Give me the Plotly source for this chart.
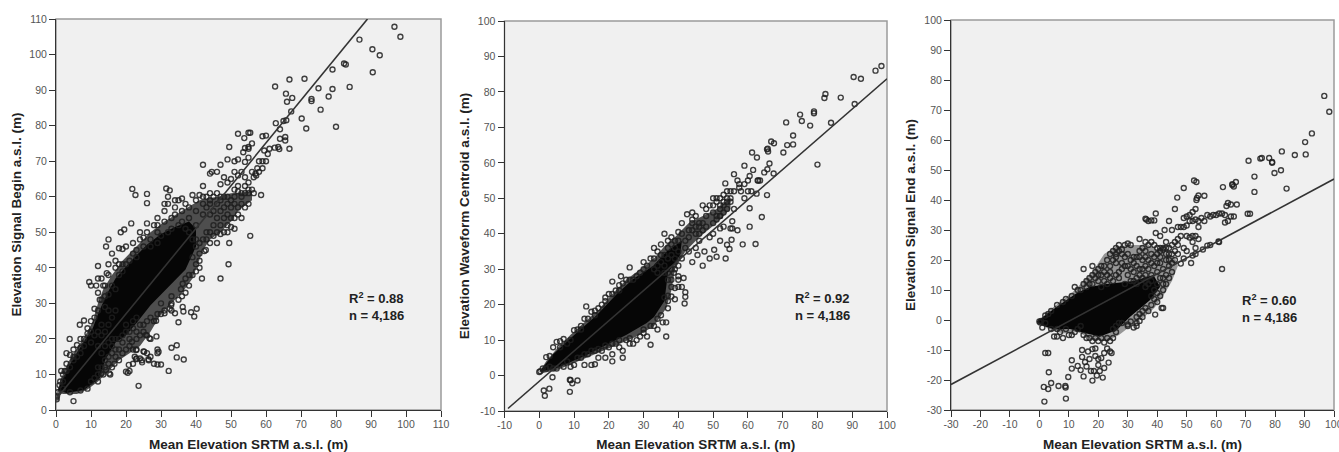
import plotly.graph_objects as go

X_TITLE = "Mean Elevation SRTM a.s.l. (m)"
Y_TITLES = ["Elevation Signal Begin a.s.l. (m)", "Elevation Waveform Centroid a.s.l. (m)", "Elevation Signal End a.s.l. (m)"]
STATS = ["R<sup>2</sup> = 0.88<br>n = 4,186", "R<sup>2</sup> = 0.92<br>n = 4,186", "R<sup>2</sup> = 0.60<br>n = 4,186"]

ticks_0_110 = [0,10,20,30,40,50,60,70,80,90,100,110]
ticks_m10_100 = [-10,0,10,20,30,40,50,60,70,80,90,100]
ticks_m30_100 = [-30,-20,-10,0,10,20,30,40,50,60,70,80,90,100]

begin_points = [
(96.7,107.8),(98.4,105),(86.7,104.2),(90.4,101.5),(92.5,99.8),(90.5,95),(82.3,97.5),(82.8,97.2),(79,95.8),(66.7,93),(71,93.2),(62.6,91),(65.7,89),(66,86.7),(67.5,87.8),(75,90.5),(79,90.3),(83.9,90.9),(77.9,88.2),(73,87.5),(73,86.9),(75.6,84.5),(67.2,84),(70.2,82),(71.5,79.2),(80,79.7),(62.8,80.7),(65,81.3),(65.8,81.5),(64,79),(66.7,73.5),(65.5,76.8),(65.5,75.8),(64,76.3),(63.5,74),(62.5,73.8),(63.8,73.4),(55,78),(55.5,78),(52,77.7),(53.8,76.5),(55,74),(56,75),(49.5,74),(54,73.7),(53.5,72.5),(55,73.5),(52,70.5),(49,70.5),(51,70),(54,69.8),(55,71),(47,69),
(59,77),(60,77.2),(61,73.5),(59.5,73),(60.5,72),(59,70),(60,70),(58,70),(59,68),(57.5,68),(57,66.5),(57.2,66),(56.5,65.5),(58,67),(56,67),(53,67),(51,67),(52,66),(54,65.5),(55,64),(50,65),(49,64),(48,65.5),(47,63.5),(46,67),(44.5,67),(44,66.5),(42,69),(49,60),(51,62),(52,61.5),(53,61),(54,61),(55,61),(56,62),(56.5,61),(58.6,60.5),(54,57),(53,54),(55.5,49),(49.5,47),(49.3,41),(47,37),(41.7,37),(42.4,44.7),(42.8,45),(50,51.5),(49,52),(51,51),(52,55),(51,54),(50,57),(48,57),(47,56),(45,60),(44,61),(42,63),(39,60.5),(41,60.5),(43,60),(38,57),(36,59.5),(35,59),(34,59),(32,60),(32.5,61.8),(31.5,62.3),(31,58),(32,58),(26,60.8),(26,58.2),(22.7,60.5),(21.8,62.2),(21.5,52.5),(26,52.5),(28,52),(29,54),(31,53),(33,54),(34,55),(36,56),(24,48),(25,48.5),(27,48),(29,50),(19.5,50.8),(18.5,50),(15,48),(14.3,46),(16,44),(18,45.5),(19,45.3),(22,44),(23,45),(12,40.5),(14.5,38.5),(15,38),(17,40),(18,41),(19,41),(9.5,36),(10,35),(11.5,35),(13.5,35),(14,35),(12,33),(12.5,31),(14,32),(15,32.5),(11,28.5),(12,28),(10,25),(8,25.2),(6.8,24),(3.9,20),(8,20),(9,21.5),(10,22),(13,24),(3,16),(4,15.5),(5,17),(6,18.3),(7,17.5),(1.5,11),(2.5,11),(1.2,8),(0.3,4),(0.2,3),(0.1,3.5),(0.5,5),(2,6),
(5,2.5),(4,5),(7,5.5),(9,6),(10,8),(12,8),(13.5,10),(15.5,10),(16,12),(14,12),(18,14),(17,17),(19,16),(20,17),(21,18),(22,17),(23,17),(20.5,10.5),(21,11),(22,13),(22.5,15),(23.6,6.8),(24,14.5),(23,14.5),(24.5,14),(25,16.5),(26,16),(27,15),(26.5,14),(28,13),(29,12.8),(30,12.8),(29,16),(29,17),(32.2,11),(33,17.5),(34.5,18.2),(34.5,14.8),(36.5,14.2),(28.7,20.7),(27,20),(26,21),(24,24),(25,24),(26,25),(28,25),(30,27),(32.9,29.5),(32.5,28.5),(33,28),(34,27.2),(35,24.7),(36.4,27.7),(36.2,29),(38.6,27.5),(39.5,26.3),(40.2,28.5),(35.7,34),(36.2,35.5),(38,38),(39,43),(41,44),(43,48),(44,50),(46,50),(47,49.5),(45,52),(43,50),(41,47),(40,48),(38,50),(40,52),(42,55),(44,55),(46,54),(36,53),(38,54),(40,56),(43,57),(44,58),(47,59),(48,60),
(14,22),(15,19),(16,20),(18,20),(19,21),(20,22),(21,22),(23,20),(24,21),(22,23),(15,15),(16,16),(17,20),(13,16),(14,14),(11,9),(12,12),(15,24),(16,26),(17,28),(15,28),(14,29),(17,34),(16,35),(18,38),(19,39),(20,41),(21,42),(23,43),(25,46),(27,46),(29,47),(30,49),(32,50),(33,51),(35,52),(37,51),(39,48),(40,46),(41,42),(40,41),(39,38),(38,35),(37,33),(36,32),(35,31),(33,30),(31,28),(29,27),(27,26),(23,26),(22,25),(20,24),(1,7),(2,8),(3,11),(4,12),(5,14),(6,15),(7,16),(8,18),(10,19),(11,21),(12,22),(13,21),
(14.3,11.3),(15.2,10.3),(12.9,10.3),(16.7,13),(20,10.8),(20.8,12.7),(22.9,14.3),(24.6,13.4),(26.4,14.3),(25.2,16.4),(29.3,16.4),(25.7,21.1),(26.7,20.2),(21.7,19.2),(22.9,16.9),(28.6,25.1),(31,27.2),(30,30),(33,32),(37,37),(40,39),(41,40),(42,48),(44,47),(45,49),(46,47),(48,50),(49,50),(50,54),(49,55),(52,57),(53,58),(55,58),(47,52),(48,54),(46,58),(45,56),(42,58),(40,59),(37,58),(34,57),(31,56),(29,52),(26,50),(24,50),(22,47),(20,46),(17,42),(15,41),(13,37),(12,37),(13,31),(11,26),(9,23),(7,20),(5,15),(3,13),(2,10),(12,18),(14,18),(16,18),(18,17),(19,19),(21,20),(23,22),(25,22),(17,15),(15,13),(13,12),(12,10),(50,59),(51,58),(53,60),(55,62),(54,63),(52,63),(51,60),(49,58),(47,60),(46,61),(44,59),(42,60),
]
begin_halo = [(0.3,5),(1.5,9),(3.5,13.5),(6,17.5),(9,22),(10.5,25),(12,30),(13.5,34),(16,38),(19,42),(23,46),(27,50),(31,53),(36,56),(41,59),(46,60),(50,61),(56,61.5),(56,59),(52,56),(50,53),(47,50),(44,48),(42,45),(39,37),(36,33),(33,30),(30,27),(27,22),(24,18),(21,16),(18,14),(15,11),(12,8),(9,5.8),(6,4.5),(2,4.5)]
begin_core = [(0.5,5.6),(3.8,12.5),(7.5,18.5),(10.5,23),(12.4,28),(15,33.5),(17,37),(21,41.5),(26,46.5),(30,49.5),(34,51.5),(38,53),(40,51),(40,46),(37,39.5),(32,34.5),(27,29.5),(23,24.5),(20,21),(17,19),(14,14),(12.5,9),(8,5.6),(3,4.8)]
begin_line_x = [0, 89]
begin_line_y = [3, 110]

centroid_points = [
(98.4,87.3),(96.7,86),(90.4,84.2),(92.5,83.7),(82.3,79.4),(82,78.3),(86.7,78.4),(79,74.5),(79,74),(90.7,76.6),(75,73.6),(75.5,71.8),(71,71.4),(77.9,70.5),(83.9,71.3),(80,59.5),(73,67.7),(71.3,65),(73,65.2),(70.2,62.9),(66.7,66),(67.5,65.5),(65.7,64),(65.5,63.8),(65.8,63.2),(61.2,62.9),(62.6,61.5),(66.2,59.8),(59,59.2),(65.6,58.2),(64.7,57.3),(67.4,57),(61.5,58),(60.5,56.3),(53.5,54.2),(56,56.8),(57,55),(57.5,54),(59,54),(60,55),(63,55),(63.5,55),(62.8,55),(61,52),(62.5,51.3),(65.5,50.9),(60,52),(59,50),(58,52),(57.5,53),(56,52),(55,52),(54,52),(60.5,47.2),(64,44.7),(60.5,42),(58.5,37),(62.2,37.1),(57,41),(55.5,41.5),(55,41.5),(55.5,43.5),(55.3,38.3),(52,38),(50.3,35.5),(54,36.9),(54.7,35.7),(49,33),(51,33.5),(53.6,33),(47,31),(47.5,35),(45.5,34),(44,32),(45,36),(41.5,27.5),(40,28),(38.7,29),(40,27),(41,25),(40,25),(39,24.7),(38,22.3),(42,23.5),(42,22.2),(41.8,20.3),(39,21.5),(37,22.5),(36,22),(36.5,15),(35.5,15),(36.5,11),(34,13),(32,8.7),(28,10),(30,12),(27,9),(26,9),(24,7),(23,8),(24,5),(21,6),(21,4),(19,5),(17,5),(15,3),(16,3.2),(13,3),(9,2.5),(10,3),(12,5),(3.8,-0.5),(8.8,-1.2),(9,-1.3),(9.5,-2.2),(11,-1.4),(2.9,-3.7),(1.3,-4.2),(1.6,-5.7),(8.8,-4.6),
(5,9.5),(6,9.7),(7,10.3),(2,5.2),(3,5.5),(10,12.8),(11,13),(13.5,19.5),(13,16),(15,18),(16,18.3),(18,20),(20,23),(21,23),(21,26.5),(23,25.5),(23.5,28),(26,30.5),(25,27),(28,28),(30,32),(32,33),(33,36),(34,35),(36,40),(35,37),(37,38),(38,37),(40,40.5),(41,43),(42,38),(43,39),(42.5,45.5),(44,44),(45,45),(46,42),(47,43),(48,45),(47,48),(49,48),(50,48),(51,50),(52,50),(53,51),(54,50),(55,50),(56,47),(54,47),(53,48),(52,45),(51,44),(50,43),(48,42),(49,39),(50,40),(52,41.5),(53,42),(46,38),(45,40),(43,35),(41,33),(40,31),(39,33),(37,33),(38,30),(39,36),(37,36),(36,34),(35,32),(34,31),(36,31),(38,34),(40,35),(42,36),(44,41),(45,42),(46,43),(51,45),(52,45),(52,48),(53,49),(54,49),(55,49),
(0,1),(0.3,1.2),(1,2),(2,2),(3,2.5),(4,2),(5,2),(7,2.5),(8,4),(11,5),(14,6),(16,7),(18,7),(20,8),(22,9),(25,10),(29,11),(31,11),(33,14),(35,17),(37,19),(38,25),(37,27),(36,29),(34,29),(33,30),(12,14),(14,16),(16,17),(4,8),(6,8),(8,9),(9,10),(19,22),(22,24),(24,26),(27,27),(29,29),
(44,46),(48,47),(50,46),(52,47),(51,49),(50,50),(53,46),(43,41),(44,43),(47,41),(46,40),(41,40),(40,38),(39,38),(38,39),(35,34),(31,31),(12,13),(17,19),(19,21),(23,24),(26,27),(30,30),(33,33),(13,6),(15,7),(17,7.5),(19,8.5),(21,9),(23,10),(26,10.5),(30,13),(32,14),(34,16),(37,21),(38,27),(37,29),(39,30),
]
centroid_halo = [(0,1),(2,4),(5,7.5),(9,11.5),(13,15),(17,18.5),(21,23),(25,27),(29,30),(33,33),(36,36.5),(39,39),(43,43),(47,45),(51,47),(55,50),(55,47),(51,43),(46,39),(42,35),(39,30),(38,24),(36.5,19),(33,14),(28,11),(22,8.5),(16,6),(10,3.5),(5,1.5),(1,0.7)]
centroid_core = [(0.2,1.2),(4,6),(9.8,11.2),(16.5,17),(22.3,23),(27,27.2),(32.8,31),(36.6,35),(41,38),(40.5,34),(37,29),(36,21),(33,16.5),(30.9,14.8),(25.1,11.5),(18.4,8.2),(12.7,5.4),(5,2.1)]
centroid_line_x = [-9, 100]
centroid_line_y = [-9.3, 83.7]

end_points = [
(96.7,74.7),(98.4,69.4),(92.5,62.2),(90.2,59.3),(90.4,55.2),(86.7,55),(82.3,56.2),(82,49.9),(79.8,49),(83.9,43.8),(79,52.7),(79,52.4),(78,54),(75,53.8),(75.5,54),(71,53.1),(73,47.8),(73,42.7),(70.7,35.4),(71.5,35.4),(66.7,46),(65.5,45.3),(65.5,45),(66,44.5),(62.3,44.3),(52.5,46.5),(53.3,46),(49,44),(46.8,40.8),(54,41.5),(53.5,40.7),(56,41.4),(53.3,40),(46,37),(62,17),(61,26),(60.8,26.2),(58,25),(57,24.8),(55.5,23.5),(53,22),(52,21.5),(51.5,19),(49,20.5),(48,18.8),(39.3,1.8),(42,4),(41.5,4),
(36,33.8),(36.3,33.5),(37,33),(38,33.2),(39,33.2),(39.5,35.5),(39.5,29),(41,28),(42.5,30),(44,33),(43,26),(47,31),(48,31),(49,31),(50,31.5),(49,34),(50,34.5),(51,33),(52,33),(53,33.5),(54,33),(55,34),(56,33),(57,35),(58,34.5),(59,35),(60,35),(61,35.5),(62,35.5),(63,35),(63,32.5),(64,33),(65,34.5),(66,34.5),(64,39),(65,38.5),(63.5,38),(67,38.5),(52,36),(53,37),(51,35),(54,31),(54,27),(53,28),(52,28),(51,27.5),(50,28),(48,28),(47,27),(46,26),(45,25),(44,24),(43,24),(42,23.5),(41,24),(40,24),(45,30),(50,23),(49,24),(52,26),(53,24),
(1.7,-27.2),(9,-26.2),(1.5,-22.3),(3,-23),(4,-21),(6.5,-22),(8.8,-22),(8.9,-22.5),(3.2,-17.4),(2,-11),(3,-11),(9.8,-19),(11,-13.4),(11,-16.2),(13,-15.3),(14,-16.7),(15,-18.8),(14.5,-12.3),(14.5,-10),(15.5,-14),(16,-15.5),(16.5,-10.5),(17,-13),(17.5,-17),(18,-20.2),(18.5,-17),(18,-9.7),(19,-9.5),(19,-12),(19.5,-18.5),(20,-15),(20,-13),(20.5,-17),(21,-12.7),(21.5,-19.2),(22,-16),(22,-11),(23,-9.5),(23.5,-14.2),(24,-10.5),(24.5,-11),
(5,-5.5),(6,-5.5),(8,-6),(7,-4),(10,-5),(11,-5),(13,-3),(15,-5),(16,-6),(18,-7),(20,-7),(22,-7.5),(24,-7),(25,-6),(25,-3),(26,-2),(27,-1),(28,-1),(30,-1.5),(32,-2.5),(33,-1),(34,-0.3),(31,-0.5),(1,-2.5),
(13,10),(14,10),(15,12),(16,13),(17,14),(18,15),(19,16),(20,17),(21,18),(22,16),(23,15),(24,14),(25,13),(23,20),(24,22),(25,23),(26,24),(27,23),(28,22),(29,25),(30,25.5),(31,25),(32,21),(33,21),(34,21),(35,20),(36,21),(37,25),(38,26),(36,26),(34,27),(39,25),(40,22),(41,23),(42,24),(43,20),(44,18),(45,16),(44,14),(43,12),(42,10),(41,8),(40,12),(38,15),(37,17),(36,18),(34,17),(32,16),(30,15),(28,17),(26,19),(25,20),(22,13),(27,14),(29,12),(31,13),(33,12),(35,14),(39,18),(40,16),(41,19),(42,17),
(24,18),(26,21),(28,19),(29,21),(30,22),(31,20),(32,19),(33,18),(34,23),(35,24),(36,23),(38,22),(39,21),(37,20),(38,19),(41,14),(42,12),(40,9),(39,10),(37,12),(36,11),(38,8),(39,7),(38,5),(36,4),(35,3),(34,2),(33,1),(12,11),(11,8),(9,7),(8,6),(6,5),(4,3),(2,1.5),(3,2),(0,-0.5),(0.3,-0.8),(0.6,-0.3),(16,11),(18,12),(20,13),(21,11),(23,12),(15,17),(18,18),(20,15),(44,22),(46,20),(47,22),(45,19),
(28,23.5),(27,25),(26,22),(29,18),(27,16),(26,15),(24,16),(22,18),(21,15),(19,14),(17,12),(30,18),(31,17),(35,17),(36,15),(38,13),(36,13),(34,15),(33,14),(32,13),(40,19),(41,21),(43,22),(44,20),(46,23),(47,25),(45,22),(43,15),(42,14),(40,6),(37,3),(35,1),(33,-2),(30,-2),(6,-3),(4,-3),(2,-1),(9,-3),(12,-4),(14,-2),(17,-6),(19,-6),(21,-6),(23,-6),(26,-4),
]
end_halo = [(-0.5,-0.5),(3,3),(7,6),(11,9),(14,12),(18,16),(22,22),(26,24.5),(31,25),(37,25),(41,23),(46,21),(47,18),(45,13),(42,8),(39,4),(35,0.5),(31,-2),(27,-5),(23,-7),(18,-6.5),(13,-4),(8,-4.5),(3,-3)]
end_core = [(-0.9,-0.6),(5.9,4.4),(12.6,8.9),(17,11),(22.8,12),(31.9,13),(38.7,15),(41,11.1),(37.5,6.6),(30.8,1.1),(26.2,-3.4),(20.6,-5.5),(16,-4.5),(10.4,-3),(5,-3.2),(1,-1.8)]
end_line_x = [-30, 100]
end_line_y = [-21.5, 47]

PANELS = [
    dict(pts=begin_points, core=begin_core, halo=begin_halo, alpha=0.72, lx=begin_line_x, ly=begin_line_y, xr=[0,110], yr=[0,110], xt=ticks_0_110, yt=ticks_0_110, px=(56,441), py=(19,410), stat=(83,29)),
    dict(pts=centroid_points, core=centroid_core, halo=centroid_halo, alpha=0.72, lx=centroid_line_x, ly=centroid_line_y, xr=[-10,100], yr=[-10,100], xt=ticks_m10_100, yt=ticks_m10_100, px=(504.5,887), py=(21,411), stat=(73,19.4)),
    dict(pts=end_points, core=end_core, halo=end_halo, alpha=0.4, lx=end_line_x, ly=end_line_y, xr=[-30,100], yr=[-30,100], xt=ticks_m30_100, yt=ticks_m30_100, px=(951,1334), py=(20,410), stat=(68,3.9)),
]
W, H = 1339, 452
fig = go.Figure()
layout = dict(width=W, height=H, autosize=False, margin=dict(l=0, r=0, t=0, b=0), paper_bgcolor="white", plot_bgcolor="#f0f0f0", showlegend=False,
              font=dict(family="Liberation Sans, Arial, sans-serif"))
shapes, annots = [], []
YT_STANDOFF = [4, 5, 5]
TITLE_FONT = dict(size=13.5, color="#222222", weight="bold")
for i, p in enumerate(PANELS):
    n = "" if i == 0 else str(i + 1)
    xa, ya = "x" + n, "y" + n
    for poly, col in ((p["halo"], "rgba(15,15,15,%s)" % p["alpha"]), (p["core"], "#060606")):
        fig.add_trace(go.Scatter(x=[c[0] for c in poly], y=[c[1] for c in poly], xaxis=xa, yaxis=ya, mode="lines", fill="toself",
                                 fillcolor=col, line=dict(width=0, color=col), hoverinfo="skip"))
    fig.add_trace(go.Scatter(x=[c[0] for c in p["pts"]], y=[c[1] for c in p["pts"]], xaxis=xa, yaxis=ya, mode="markers",
                             marker=dict(symbol="circle-open", size=5, color="rgba(30,30,30,0.85)", line=dict(width=1.4))))
    fig.add_trace(go.Scatter(x=p["lx"], y=p["ly"], xaxis=xa, yaxis=ya, mode="lines", line=dict(color="#333333", width=1.6)))
    ax = dict(showgrid=False, zeroline=False, showline=True, linecolor="#333333", linewidth=1, ticks="outside", ticklen=6, tickcolor="#333333",
              tickmode="array", tickfont=dict(size=10.5, color="#555555"), layer="above traces", automargin=False)
    layout["xaxis" + n] = dict(ax, domain=[p["px"][0]/W, p["px"][1]/W], range=p["xr"], anchor=ya, tickvals=p["xt"], ticktext=[str(t) for t in p["xt"]],
                               ticklabelstandoff=-2, title=dict(text=X_TITLE, font=TITLE_FONT, standoff=10))
    layout["yaxis" + n] = dict(ax, domain=[1-p["py"][1]/H, 1-p["py"][0]/H], range=p["yr"], anchor=xa, tickvals=p["yt"], ticktext=[str(t) for t in p["yt"]],
                               title=dict(text=Y_TITLES[i], font=TITLE_FONT, standoff=YT_STANDOFF[i]))
    shapes.append(dict(type="rect", xref=xa + " domain", yref=ya + " domain", x0=0, x1=1, y0=0, y1=1, line=dict(color="#9a9a9a", width=1.5), fillcolor="rgba(0,0,0,0)", layer="below"))
    annots.append(dict(xref=xa, yref=ya, x=p["stat"][0], y=p["stat"][1], text=STATS[i], showarrow=False, xanchor="left", yanchor="middle", align="left",
                       font=dict(size=13, color="#222222", weight="bold")))
# the last tick label of the third panel runs off the page edge, where Plotly drops it
annots.append(dict(xref="x3", yref="y3 domain", x=100, y=0, yshift=-6, text=str(ticks_m30_100[-1]), showarrow=False, xanchor="center", yanchor="top",
                   font=dict(size=10.5, color="#555555")))
layout["shapes"] = shapes
layout["annotations"] = annots
fig.update_layout(**layout)
fig.write_html("out.html", config={"displayModeBar": False}, post_script="document.body.style.margin='0';")
